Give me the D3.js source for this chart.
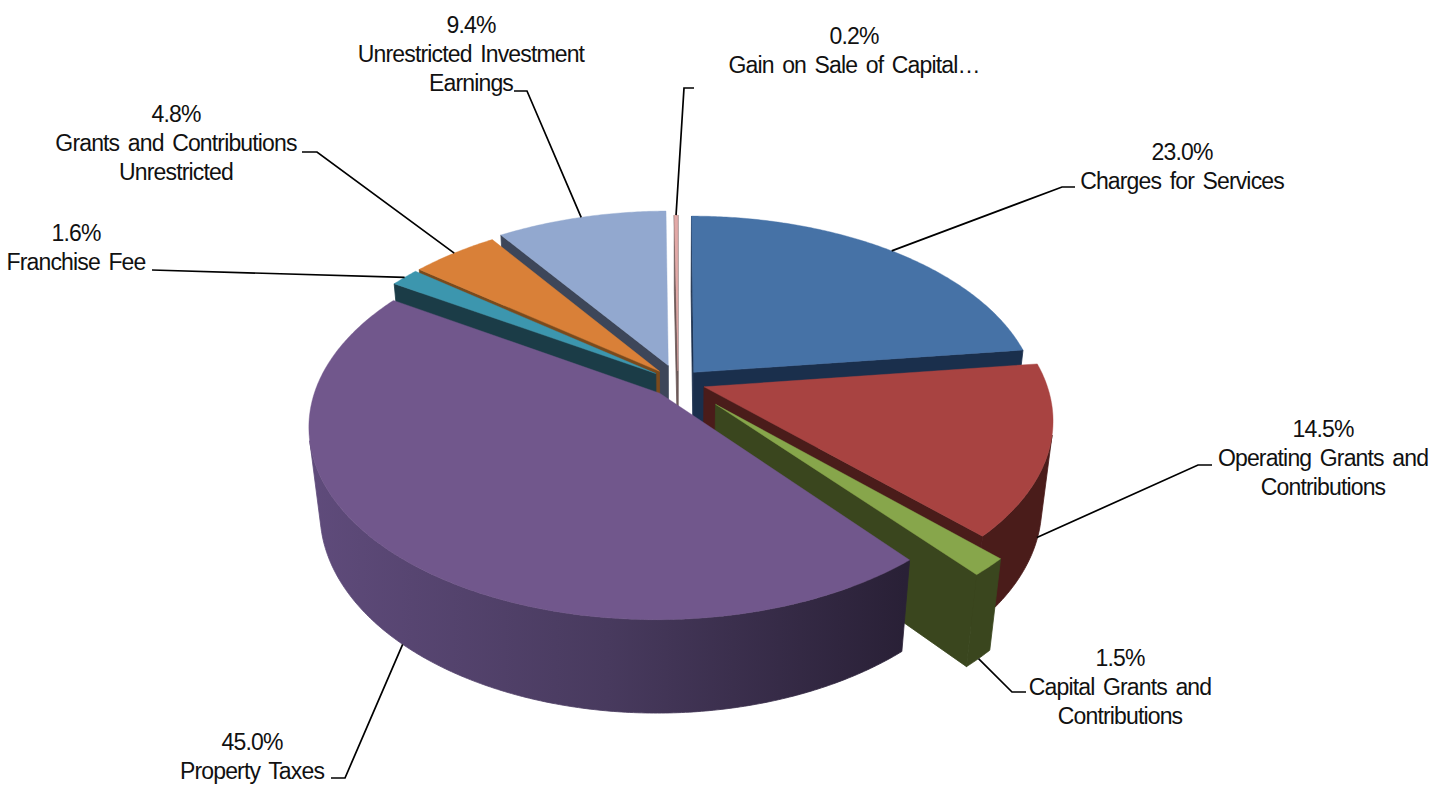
<!DOCTYPE html>
<html>
<head>
<meta charset="utf-8">
<script src="https://cdn.jsdelivr.net/npm/d3@7"></script>
<style>
  html, body { margin: 0; background: #fff; }
  text { font-family: "Liberation Sans", Arial, sans-serif; font-size: 23px; letter-spacing: -0.85px; word-spacing: 3px; fill: #111; text-anchor: middle; }
</style>
</head>
<body>
<svg id="chart" width="1448" height="785"></svg>
<script>
// Revenue shares, clockwise from twelve o'clock
const categories = [
  "Charges for Services",
  "Operating Grants and Contributions",
  "Capital Grants and Contributions",
  "Property Taxes",
  "Franchise Fee",
  "Grants and Contributions Unrestricted",
  "Unrestricted Investment Earnings",
  "Gain on Sale of Capital Assets"
];
const shares = [23.0, 14.5, 1.5, 45.0, 1.6, 4.8, 9.4, 0.2];

// Slice styling and how far each slice is pulled from the centre
const topColors  = ["#4672a6", "#a84341", "#87a64b", "#71578c", "#3c96ae", "#d98038", "#92a8cf", "#e2a9a7"];
const wallColors = ["#1a2f4c", "#4a1c1a", "#3a461e", "url(#purpleWall)", "#1b3c47", "#7a4a1c", "#3d4659", "#6b5857"];
const explode    = [0.07, 0.08, 0.16, 0.08, 0.08, 0.08, 0.095, 0.06];
const paintOrder = [6, 7, 5, 4, 0, 1, 2, 3];

// Text blocks and leader lines: lines, centre x, first baseline, elbow points, anchor on slice
const labelLines = [
  ["23.0%", "Charges for Services"],
  ["14.5%", "Operating Grants and", "Contributions"],
  ["1.5%", "Capital Grants and", "Contributions"],
  ["45.0%", "Property Taxes"],
  ["1.6%", "Franchise Fee"],
  ["4.8%", "Grants and Contributions", "Unrestricted"],
  ["9.4%", "Unrestricted Investment", "Earnings"],
  ["0.2%", "Gain on Sale of Capital…"]
];
const labelX = [1182, 1323, 1120, 252, 76, 176, 471, 854];
const labelY = [160, 437, 666, 750, 241, 122, 33, 44];
const elbows = [
  [[1075, 187], [1062, 187]],
  [[1212, 465], [1198, 465]],
  [[1026, 692], [1012, 692]],
  [[331, 778], [345, 778]],
  [[152, 270]],
  [[302, 152], [317, 152]],
  [[514, 91], [527, 91]],
  [[694, 88], [684, 88]]
];
const anchors = [
  { t: 0.5, z: 0 }, { t: 0.52, z: 0.95 }, { t: 0.5, z: 1 }, { t: 0.504, z: 1 },
  { t: 0.5, z: 0 }, { t: 0.5, z: 0 }, { t: 0.5, z: 0 }, { t: 0.5, z: 0 }
];

// Camera: centre on screen, radii, depth scale and perspective strength
const view = { cx: 678, cy: 382, a: 342, b: 185, h: 87, k: 0.165, m: 0.03 };

function project(u, v, z) {
  const s = 1 / (1 - view.k * v + view.m * z);
  return [view.cx + view.a * u * s, view.cy + (view.b * v + view.h * z) * s];
}

const svg = d3.select("#chart");
const line = d3.line();
const closed = pts => line(pts) + "Z";

const gradient = svg.append("defs").append("linearGradient")
  .attr("id", "purpleWall")
  .attr("gradientUnits", "userSpaceOnUse")
  .attr("x1", 310).attr("x2", 905).attr("y1", 0).attr("y2", 0);
gradient.selectAll("stop")
  .data([[0, "#5f4b7b"], [0.5, "#483a5e"], [1, "#292036"]])
  .join("stop")
  .attr("offset", d => d[0])
  .attr("stop-color", d => d[1]);

const arcs = d3.pie().sort(null).value(d => d)(shares);

function sliceGeometry(arc, i) {
  const mid = (arc.startAngle + arc.endAngle) / 2;
  const u0 = explode[i] * Math.sin(mid);
  const v0 = -explode[i] * Math.cos(mid);
  const at = (theta, z) => project(u0 + Math.sin(theta), v0 - Math.cos(theta), z);
  const sweep = arc.endAngle - arc.startAngle;
  const n = Math.max(2, Math.ceil(sweep / 0.01));
  const angles = d3.range(n + 1).map(j => arc.startAngle + sweep * j / n);
  return { at, angles, apexTop: project(u0, v0, 0), apexBottom: project(u0, v0, 1), sweep };
}

// Positive when the outline runs clockwise on screen
const signedArea = pts => -d3.polygonArea(pts);

paintOrder.forEach(i => {
  const arc = arcs[i];
  const g = sliceGeometry(arc, i);
  const group = svg.append("g").attr("class", "slice");
  const wall = wallColors[i];
  const paint = (pts, fill, width) => group.append("path")
    .attr("d", closed(pts)).attr("fill", fill).attr("stroke", fill).attr("stroke-width", width);

  // Radial cut faces, shown only when they turn toward the viewer
  const startFace = [g.apexTop, g.at(arc.startAngle, 0), g.at(arc.startAngle, 1), g.apexBottom];
  const endFace = [g.apexTop, g.at(arc.endAngle, 0), g.at(arc.endAngle, 1), g.apexBottom];
  if (signedArea(startFace) < 0) paint(startFace, wall, 0.8);
  if (signedArea(endFace) > 0) paint(endFace, wall, 0.8);

  // Outer rim: join neighbouring visible segments into one shape
  let run = [];
  const flush = () => {
    if (run.length > 1) {
      paint(run.map(t => g.at(t, 0)).concat(run.slice().reverse().map(t => g.at(t, 1))), wall, 0.8);
    }
    run = [];
  };
  d3.pairs(g.angles).forEach(([t1, t2]) => {
    const quad = [g.at(t1, 0), g.at(t2, 0), g.at(t2, 1), g.at(t1, 1)];
    if (signedArea(quad) < 0) {
      if (!run.length) run.push(t1);
      run.push(t2);
    } else flush();
  });
  flush();

  // Top face
  paint([g.apexTop].concat(g.angles.map(t => g.at(t, 0))), topColors[i], 0.4);
});

// Leader lines
arcs.forEach((arc, i) => {
  const g = sliceGeometry(arc, i);
  const a = anchors[i];
  const end = g.at(arc.startAngle + g.sweep * a.t, a.z);
  svg.append("path")
    .attr("d", line(elbows[i].concat([end])))
    .attr("fill", "none").attr("stroke", "#000").attr("stroke-width", 1.7);
});

// Labels
labelLines.forEach((lines, i) => {
  const t = svg.append("text").attr("x", labelX[i]).attr("y", labelY[i]);
  t.selectAll("tspan").data(lines).join("tspan")
    .attr("x", labelX[i])
    .attr("dy", (d, j) => j ? 29 : 0)
    .text(d => d);
});
</script>
</body>
</html>
